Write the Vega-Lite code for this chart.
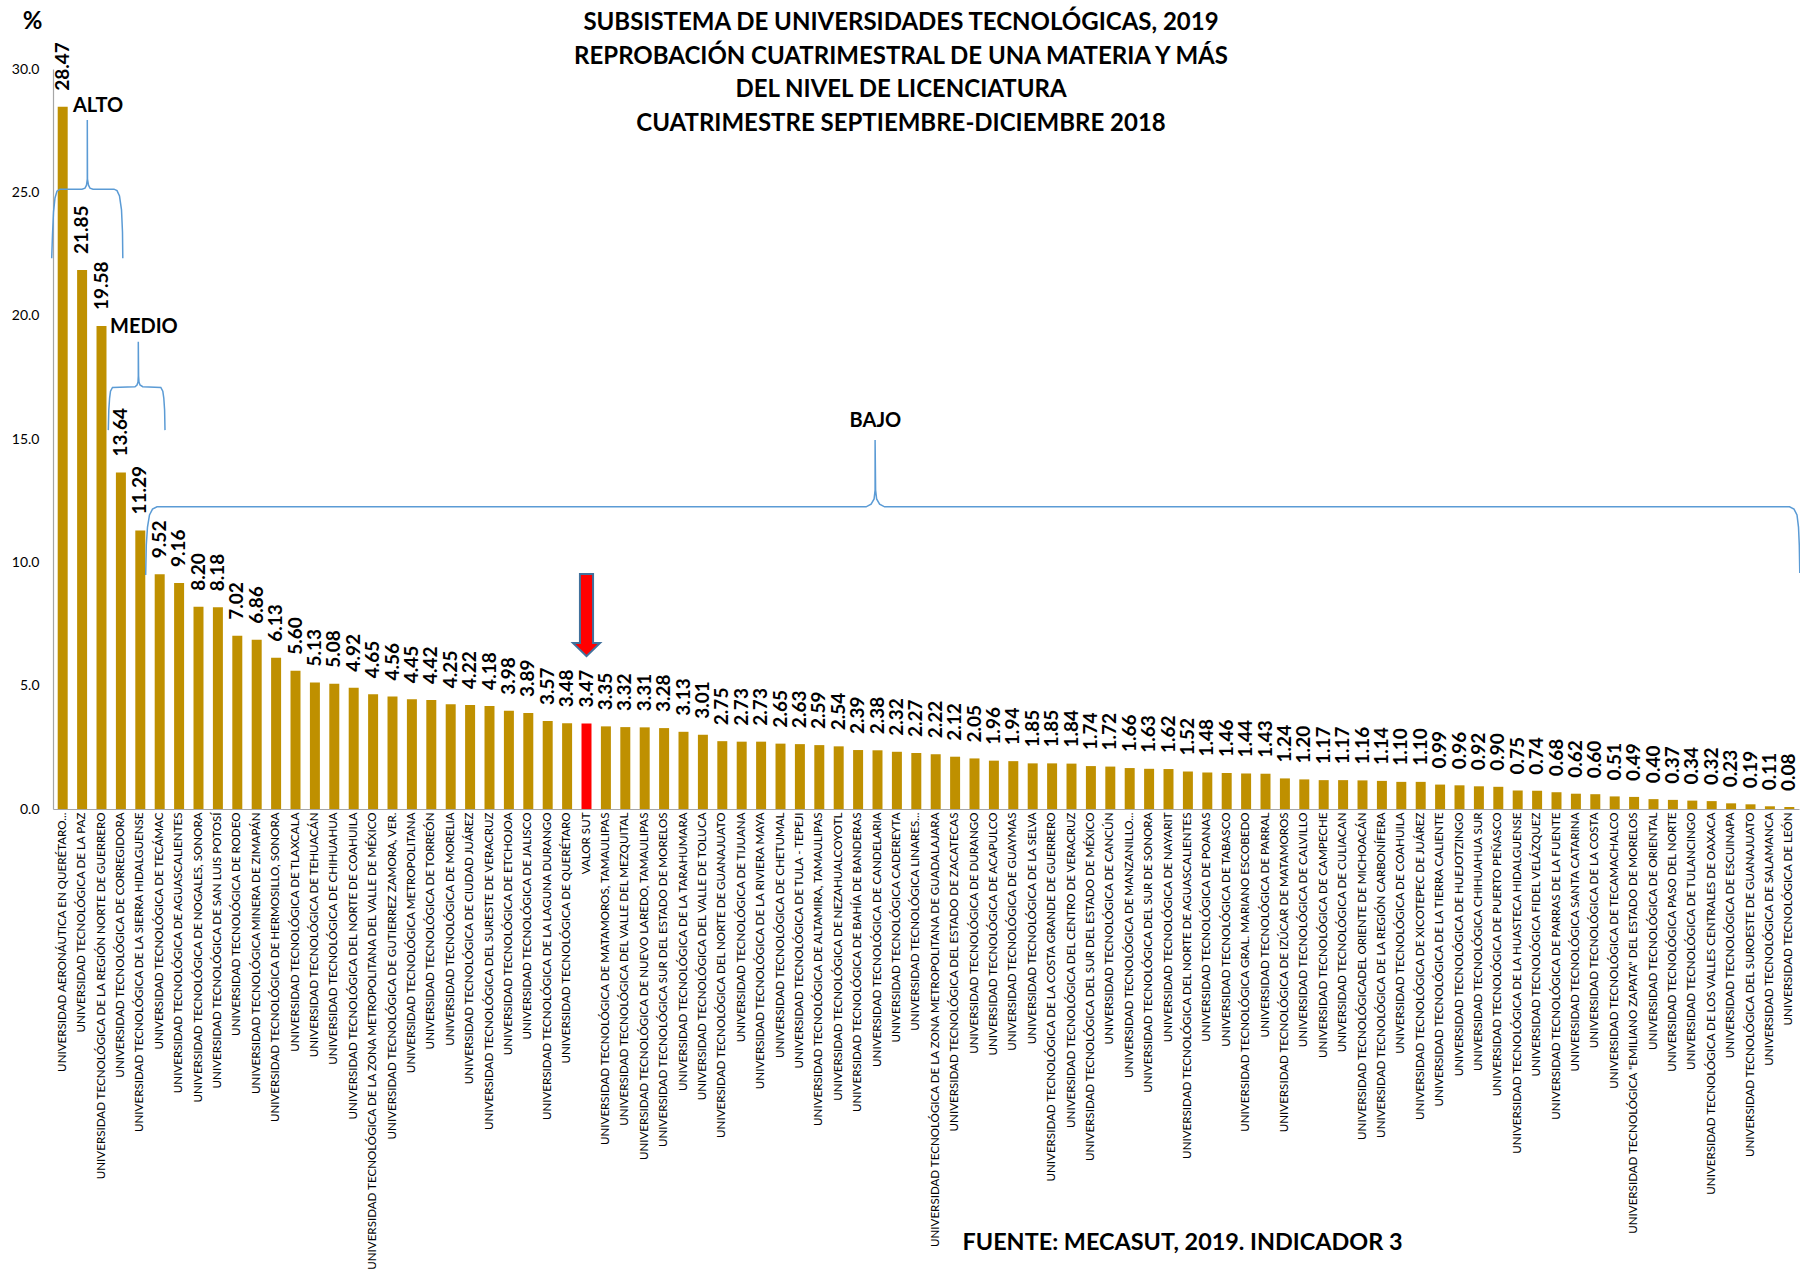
{
  "$schema": "https://vega.github.io/schema/vega-lite/v6.json",
  "width": 1746,
  "height": 740,
  "autosize": {"type": "none"},
  "padding": {"left": 53, "top": 69, "right": 1, "bottom": 466},
  "background": "white",
  "title": {
    "text": ["SUBSISTEMA DE UNIVERSIDADES TECNOLÓGICAS, 2019", "REPROBACIÓN CUATRIMESTRAL DE UNA MATERIA Y MÁS", "DEL NIVEL DE LICENCIATURA", "CUATRIMESTRE SEPTIEMBRE-DICIEMBRE 2018"],
    "anchor": "middle",
    "frame": "group",
    "dx": -25,
    "dy": 127,
    "font": "Lato",
    "fontSize": 24,
    "fontWeight": "bold",
    "lineHeight": 33.7,
    "color": "#000000",
    "offset": 0
  },
  "datasets": {
    "uts": [
      {"name": "UNIVERSIDAD AERONÁUTICA EN QUERÉTARO...", "value": 28.47},
      {"name": "UNIVERSIDAD TECNOLÓGICA DE LA PAZ", "value": 21.85},
      {"name": "UNIVERSIDAD TECNOLÓGICA DE LA REGIÓN NORTE DE GUERRERO", "value": 19.58},
      {"name": "UNIVERSIDAD TECNOLÓGICA DE CORREGIDORA", "value": 13.64},
      {"name": "UNIVERSIDAD TECNOLÓGICA DE LA SIERRA HIDALGUENSE", "value": 11.29},
      {"name": "UNIVERSIDAD TECNOLÓGICA DE TECÁMAC", "value": 9.52},
      {"name": "UNIVERSIDAD TECNOLÓGICA DE AGUASCALIENTES", "value": 9.16},
      {"name": "UNIVERSIDAD TECNOLÓGICA DE NOGALES, SONORA", "value": 8.20},
      {"name": "UNIVERSIDAD TECNOLÓGICA DE SAN LUIS POTOSÍ", "value": 8.18},
      {"name": "UNIVERSIDAD TECNOLÓGICA DE RODEO", "value": 7.02},
      {"name": "UNIVERSIDAD TECNOLÓGICA MINERA DE ZIMAPÁN", "value": 6.86},
      {"name": "UNIVERSIDAD TECNOLÓGICA DE HERMOSILLO, SONORA", "value": 6.13},
      {"name": "UNIVERSIDAD TECNOLÓGICA DE TLAXCALA", "value": 5.60},
      {"name": "UNIVERSIDAD TECNOLÓGICA DE TEHUACÁN", "value": 5.13},
      {"name": "UNIVERSIDAD TECNOLÓGICA DE CHIHUAHUA", "value": 5.08},
      {"name": "UNIVERSIDAD TECNOLÓGICA DEL NORTE DE COAHUILA", "value": 4.92},
      {"name": "UNIVERSIDAD TECNOLÓGICA DE LA ZONA METROPOLITANA DEL VALLE DE MÉXICO", "value": 4.65},
      {"name": "UNIVERSIDAD TECNOLÓGICA DE GUTIERREZ ZAMORA, VER.", "value": 4.56},
      {"name": "UNIVERSIDAD TECNOLÓGICA METROPOLITANA", "value": 4.45},
      {"name": "UNIVERSIDAD TECNOLÓGICA DE TORREÓN", "value": 4.42},
      {"name": "UNIVERSIDAD TECNOLÓGICA DE MORELIA", "value": 4.25},
      {"name": "UNIVERSIDAD TECNOLÓGICA DE CIUDAD JUÁREZ", "value": 4.22},
      {"name": "UNIVERSIDAD TECNOLÓGICA DEL SURESTE DE VERACRUZ", "value": 4.18},
      {"name": "UNIVERSIDAD TECNOLÓGICA DE ETCHOJOA", "value": 3.98},
      {"name": "UNIVERSIDAD TECNOLÓGICA DE JALISCO", "value": 3.89},
      {"name": "UNIVERSIDAD TECNOLÓGICA DE LA LAGUNA DURANGO", "value": 3.57},
      {"name": "UNIVERSIDAD TECNOLÓGICA DE QUERÉTARO", "value": 3.48},
      {"name": "VALOR SUT", "value": 3.47},
      {"name": "UNIVERSIDAD TECNOLÓGICA DE MATAMOROS, TAMAULIPAS", "value": 3.35},
      {"name": "UNIVERSIDAD TECNOLÓGICA DEL VALLE DEL MEZQUITAL", "value": 3.32},
      {"name": "UNIVERSIDAD TECNOLÓGICA DE NUEVO LAREDO, TAMAULIPAS", "value": 3.31},
      {"name": "UNIVERSIDAD TECNOLÓGICA SUR DEL ESTADO DE MORELOS", "value": 3.28},
      {"name": "UNIVERSIDAD TECNOLÓGICA DE LA TARAHUMARA", "value": 3.13},
      {"name": "UNIVERSIDAD TECNOLÓGICA DEL VALLE DE TOLUCA", "value": 3.01},
      {"name": "UNIVERSIDAD TECNOLÓGICA DEL NORTE DE GUANAJUATO", "value": 2.75},
      {"name": "UNIVERSIDAD TECNOLÓGICA DE TIJUANA", "value": 2.73},
      {"name": "UNIVERSIDAD TECNOLÓGICA DE LA RIVIERA MAYA", "value": 2.73},
      {"name": "UNIVERSIDAD TECNOLÓGICA DE CHETUMAL", "value": 2.65},
      {"name": "UNIVERSIDAD TECNOLÓGICA DE TULA - TEPEJI", "value": 2.63},
      {"name": "UNIVERSIDAD TECNOLÓGICA DE ALTAMIRA, TAMAULIPAS", "value": 2.59},
      {"name": "UNIVERSIDAD TECNOLÓGICA DE NEZAHUALCOYOTL", "value": 2.54},
      {"name": "UNIVERSIDAD TECNOLÓGICA DE BAHÍA DE BANDERAS", "value": 2.39},
      {"name": "UNIVERSIDAD TECNOLÓGICA DE CANDELARIA", "value": 2.38},
      {"name": "UNIVERSIDAD TECNOLÓGICA CADEREYTA", "value": 2.32},
      {"name": "UNIVERSIDAD TECNOLÓGICA LINARES...", "value": 2.27},
      {"name": "UNIVERSIDAD TECNOLÓGICA DE LA ZONA METROPOLITANA DE GUADALAJARA", "value": 2.22},
      {"name": "UNIVERSIDAD TECNOLÓGICA DEL ESTADO DE ZACATECAS", "value": 2.12},
      {"name": "UNIVERSIDAD TECNOLÓGICA DE DURANGO", "value": 2.05},
      {"name": "UNIVERSIDAD TECNOLÓGICA DE ACAPULCO", "value": 1.96},
      {"name": "UNIVERSIDAD TECNOLÓGICA DE GUAYMAS", "value": 1.94},
      {"name": "UNIVERSIDAD TECNOLÓGICA DE LA SELVA", "value": 1.85},
      {"name": "UNIVERSIDAD TECNOLÓGICA DE LA COSTA GRANDE DE GUERRERO", "value": 1.85},
      {"name": "UNIVERSIDAD TECNOLÓGICA DEL CENTRO DE VERACRUZ", "value": 1.84},
      {"name": "UNIVERSIDAD TECNOLÓGICA DEL SUR DEL ESTADO DE MÉXICO", "value": 1.74},
      {"name": "UNIVERSIDAD TECNOLÓGICA DE CANCÚN", "value": 1.72},
      {"name": "UNIVERSIDAD TECNOLÓGICA DE MANZANILLO...", "value": 1.66},
      {"name": "UNIVERSIDAD TECNOLÓGICA DEL SUR DE SONORA", "value": 1.63},
      {"name": "UNIVERSIDAD TECNOLÓGICA DE NAYARIT", "value": 1.62},
      {"name": "UNIVERSIDAD TECNOLÓGICA DEL NORTE DE AGUASCALIENTES", "value": 1.52},
      {"name": "UNIVERSIDAD TECNOLÓGICA DE POANAS", "value": 1.48},
      {"name": "UNIVERSIDAD TECNOLÓGICA DE TABASCO", "value": 1.46},
      {"name": "UNIVERSIDAD TECNOLÓGICA GRAL. MARIANO ESCOBEDO", "value": 1.44},
      {"name": "UNIVERSIDAD TECNOLÓGICA DE PARRAL", "value": 1.43},
      {"name": "UNIVERSIDAD TECNOLÓGICA DE IZÚCAR DE MATAMOROS", "value": 1.24},
      {"name": "UNIVERSIDAD TECNOLÓGICA DE CALVILLO", "value": 1.20},
      {"name": "UNIVERSIDAD TECNOLÓGICA DE CAMPECHE", "value": 1.17},
      {"name": "UNIVERSIDAD TECNOLÓGICA DE CULIACAN", "value": 1.17},
      {"name": "UNIVERSIDAD TECNOLÓGICADEL ORIENTE DE MICHOACÁN", "value": 1.16},
      {"name": "UNIVERSIDAD TECNOLÓGICA DE LA REGIÓN CARBONÍFERA", "value": 1.14},
      {"name": "UNIVERSIDAD TECNOLÓGICA DE COAHUILA", "value": 1.10},
      {"name": "UNIVERSIDAD TECNOLÓGICA DE XICOTEPEC DE JUÁREZ", "value": 1.10},
      {"name": "UNIVERSIDAD TECNOLÓGICA DE LA TIERRA CALIENTE", "value": 0.99},
      {"name": "UNIVERSIDAD TECNOLÓGICA DE HUEJOTZINGO", "value": 0.96},
      {"name": "UNIVERSIDAD TECNOLÓGICA CHIHUAHUA SUR", "value": 0.92},
      {"name": "UNIVERSIDAD TECNOLÓGICA DE PUERTO PEÑASCO", "value": 0.90},
      {"name": "UNIVERSIDAD TECNOLÓGICA DE LA HUASTECA HIDALGUENSE", "value": 0.75},
      {"name": "UNIVERSIDAD TECNOLÓGICA FIDEL VELÁZQUEZ", "value": 0.74},
      {"name": "UNIVERSIDAD TECNOLÓGICA DE PARRAS DE LA FUENTE", "value": 0.68},
      {"name": "UNIVERSIDAD TECNOLÓGICA SANTA CATARINA", "value": 0.62},
      {"name": "UNIVERSIDAD TECNOLÓGICA DE LA COSTA", "value": 0.60},
      {"name": "UNIVERSIDAD TECNOLÓGICA DE TECAMACHALCO", "value": 0.51},
      {"name": "UNIVERSIDAD TECNOLÓGICA \"EMILIANO ZAPATA\" DEL ESTADO DE MORELOS", "value": 0.49},
      {"name": "UNIVERSIDAD TECNOLÓGICA DE ORIENTAL", "value": 0.40},
      {"name": "UNIVERSIDAD TECNOLÓGICA PASO DEL NORTE", "value": 0.37},
      {"name": "UNIVERSIDAD TECNOLÓGICA DE TULANCINGO", "value": 0.34},
      {"name": "UNIVERSIDAD TECNOLÓGICA DE LOS VALLES CENTRALES DE OAXACA", "value": 0.32},
      {"name": "UNIVERSIDAD TECNOLÓGICA DE ESCUINAPA", "value": 0.23},
      {"name": "UNIVERSIDAD TECNOLÓGICA DEL SUROESTE DE GUANAJUATO", "value": 0.19},
      {"name": "UNIVERSIDAD TECNOLÓGICA DE SALAMANCA", "value": 0.11},
      {"name": "UNIVERSIDAD TECNOLÓGICA DE LEÓN", "value": 0.08}
    ],
    "braces": [
      {"b": "alto", "k": 1, "u": -0.067, "v": 22.33},
      {"b": "alto", "k": 2, "u": -0.026, "v": 23.27},
      {"b": "alto", "k": 3, "u": 0.026, "v": 24.20},
      {"b": "alto", "k": 4, "u": 0.103, "v": 24.77},
      {"b": "alto", "k": 5, "u": 0.206, "v": 25.05},
      {"b": "alto", "k": 6, "u": 0.361, "v": 25.13},
      {"b": "alto", "k": 7, "u": 1.495, "v": 25.13},
      {"b": "alto", "k": 8, "u": 1.649, "v": 25.17},
      {"b": "alto", "k": 9, "u": 1.727, "v": 25.29},
      {"b": "alto", "k": 10, "u": 1.768, "v": 25.54},
      {"b": "alto", "k": 11, "u": 1.768, "v": 27.93},
      {"b": "alto", "k": 12, "u": 1.778, "v": 25.54},
      {"b": "alto", "k": 13, "u": 1.830, "v": 25.29},
      {"b": "alto", "k": 14, "u": 1.907, "v": 25.17},
      {"b": "alto", "k": 15, "u": 2.062, "v": 25.13},
      {"b": "alto", "k": 16, "u": 3.144, "v": 25.13},
      {"b": "alto", "k": 17, "u": 3.299, "v": 25.07},
      {"b": "alto", "k": 18, "u": 3.428, "v": 24.85},
      {"b": "alto", "k": 19, "u": 3.531, "v": 24.29},
      {"b": "alto", "k": 20, "u": 3.582, "v": 23.39},
      {"b": "alto", "k": 21, "u": 3.598, "v": 22.33},
      {"b": "medio", "k": 1, "u": 2.851, "v": 15.36},
      {"b": "medio", "k": 2, "u": 2.876, "v": 16.17},
      {"b": "medio", "k": 3, "u": 2.918, "v": 16.66},
      {"b": "medio", "k": 4, "u": 2.964, "v": 16.94},
      {"b": "medio", "k": 5, "u": 3.067, "v": 17.09},
      {"b": "medio", "k": 6, "u": 4.227, "v": 17.12},
      {"b": "medio", "k": 7, "u": 4.330, "v": 17.19},
      {"b": "medio", "k": 8, "u": 4.381, "v": 17.31},
      {"b": "medio", "k": 9, "u": 4.397, "v": 17.55},
      {"b": "medio", "k": 10, "u": 4.397, "v": 18.94},
      {"b": "medio", "k": 11, "u": 4.412, "v": 17.55},
      {"b": "medio", "k": 12, "u": 4.433, "v": 17.31},
      {"b": "medio", "k": 13, "u": 4.485, "v": 17.19},
      {"b": "medio", "k": 14, "u": 4.624, "v": 17.12},
      {"b": "medio", "k": 15, "u": 5.557, "v": 17.09},
      {"b": "medio", "k": 16, "u": 5.660, "v": 16.94},
      {"b": "medio", "k": 17, "u": 5.711, "v": 16.66},
      {"b": "medio", "k": 18, "u": 5.753, "v": 16.17},
      {"b": "medio", "k": 19, "u": 5.773, "v": 15.36},
      {"b": "bajo", "k": 1, "u": 4.778, "v": 9.49},
      {"b": "bajo", "k": 2, "u": 4.809, "v": 10.70},
      {"b": "bajo", "k": 3, "u": 4.871, "v": 11.43},
      {"b": "bajo", "k": 4, "u": 4.974, "v": 11.92},
      {"b": "bajo", "k": 5, "u": 5.129, "v": 12.16},
      {"b": "bajo", "k": 6, "u": 5.361, "v": 12.25},
      {"b": "bajo", "k": 7, "u": 41.912, "v": 12.25},
      {"b": "bajo", "k": 8, "u": 42.170, "v": 12.36},
      {"b": "bajo", "k": 9, "u": 42.325, "v": 12.57},
      {"b": "bajo", "k": 10, "u": 42.376, "v": 12.93},
      {"b": "bajo", "k": 11, "u": 42.376, "v": 14.96},
      {"b": "bajo", "k": 12, "u": 42.402, "v": 12.93},
      {"b": "bajo", "k": 13, "u": 42.454, "v": 12.57},
      {"b": "bajo", "k": 14, "u": 42.608, "v": 12.36},
      {"b": "bajo", "k": 15, "u": 42.866, "v": 12.25},
      {"b": "bajo", "k": 16, "u": 89.510, "v": 12.25},
      {"b": "bajo", "k": 17, "u": 89.742, "v": 12.16},
      {"b": "bajo", "k": 18, "u": 89.897, "v": 11.92},
      {"b": "bajo", "k": 19, "u": 89.974, "v": 11.43},
      {"b": "bajo", "k": 20, "u": 90.015, "v": 10.70},
      {"b": "bajo", "k": 21, "u": 90.040, "v": 9.57}
    ],
    "notes": [
      {"label": "ALTO", "u": 1.03, "v": 28.5},
      {"label": "MEDIO", "u": 2.94, "v": 19.55},
      {"label": "BAJO", "u": 41.06, "v": 15.73}
    ]
  },
  "layer": [
    {
      "data": {"name": "uts"},
      "layer": [
        {
          "mark": {"type": "bar"},
          "encoding": {
            "x": {"field": "name", "type": "nominal", "sort": null, "title": "FUENTE: MECASUT, 2019. INDICADOR 3",
                  "scale": {"paddingInner": 0.485, "paddingOuter": 0.2425}},
            "y": {"field": "value", "type": "quantitative", "title": "%",
                  "scale": {"domain": [0, 30], "nice": false},
                  "axis": {"values": [0, 5, 10, 15, 20, 25, 30], "format": ".1f"}},
            "color": {"condition": {"test": "datum.name === 'VALOR SUT'", "value": "#FF0000"}, "value": "#BF9000"}
          }
        },
        {
          "mark": {"type": "text", "angle": 270, "align": "left", "baseline": "middle", "dx": 16, "font": "Lato", "fontSize": 19, "fontWeight": "bold", "color": "#000000"},
          "encoding": {
            "x": {"field": "name", "type": "nominal", "sort": null, "title": "FUENTE: MECASUT, 2019. INDICADOR 3"},
            "y": {"field": "value", "type": "quantitative", "title": "%"},
            "text": {"field": "value", "type": "quantitative", "format": ".2f"}
          }
        },
        {
          "mark": {"type": "point", "shape": "M-0.16,-1L0.16,-1L0.16,0.68L0.33,0.68L0,1L-0.33,0.68L-0.16,0.68Z", "size": 6724, "filled": true, "fill": "#FF0000", "stroke": "#41719C", "strokeWidth": 2},
          "encoding": {
            "x": {"field": "name", "type": "nominal", "sort": null, "title": "FUENTE: MECASUT, 2019. INDICADOR 3"},
            "y": {"datum": 7.86, "type": "quantitative"},
            "opacity": {"condition": {"test": "datum.name === 'VALOR SUT'", "value": 1}, "value": 0}
          }
        }
      ]
    },
    {
      "layer": [
        {
          "data": {"name": "braces"},
          "mark": {"type": "line", "color": "#5B9BD5", "strokeWidth": 1.5, "interpolate": "linear", "clip": false},
          "encoding": {
            "x": {"field": "u", "type": "quantitative", "scale": {"domain": [0, 90], "nice": false, "zero": false}, "axis": null},
            "y": {"field": "v", "type": "quantitative", "title": "%", "scale": {"domain": [0, 30], "nice": false}},
            "detail": {"field": "b"},
            "order": {"field": "k", "type": "quantitative"}
          }
        },
        {
          "data": {"name": "notes"},
          "mark": {"type": "text", "align": "left", "baseline": "middle", "font": "Lato", "fontSize": 20, "fontWeight": "bold", "color": "#000000"},
          "encoding": {
            "x": {"field": "u", "type": "quantitative", "scale": {"domain": [0, 90], "nice": false, "zero": false}, "axis": null},
            "y": {"field": "v", "type": "quantitative", "title": "%"},
            "text": {"field": "label"}
          }
        }
      ]
    }
  ],
  "resolve": {"scale": {"x": "independent"}},
  "config": {
    "view": {"stroke": null},
    "font": "Lato",
    "axisY": {
      "labelFont": "Lato", "labelFontSize": 14, "labelColor": "#000000", "ticks": false, "grid": false,
      "domainColor": "#A6A6A6", "domainWidth": 1.2, "labelPadding": 14,
      "titleAngle": 0, "titleX": -21, "titleY": -48, "titleFont": "Lato", "titleFontSize": 24, "titleFontWeight": "bold",
      "titleAlign": "center", "titleBaseline": "middle", "titleColor": "#000000"
    },
    "axisX": {
      "labelAngle": -90, "labelFont": "Lato", "labelFontSize": 11.6, "labelColor": "#000000", "labelLimit": 600,
      "labelOverlap": false, "ticks": false, "grid": false, "domainColor": "#A6A6A6", "domainWidth": 1.2, "labelPadding": 3,
      "titleX": 1129, "titleY": 433, "titleFont": "Lato", "titleFontSize": 23.4, "titleFontWeight": "bold",
      "titleAlign": "center", "titleBaseline": "middle", "titleColor": "#000000"
    }
  }
}
